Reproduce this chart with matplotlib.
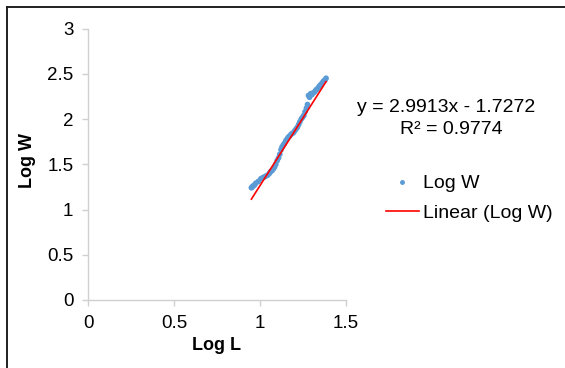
import matplotlib
matplotlib.use("Agg")
import matplotlib.pyplot as plt
import numpy as np
from matplotlib.lines import Line2D

plt.rcParams['font.family'] = ['Liberation Sans', 'DejaVu Sans']

log_l = [0.950, 0.955, 0.960, 0.968, 0.975, 0.990, 1.005, 1.015, 1.025, 1.035,
         1.045, 1.055, 1.062, 1.070, 1.078, 1.085, 1.092, 1.100, 1.108, 1.115,
         1.122, 1.128, 1.135, 1.142, 1.150, 1.158, 1.165, 1.172, 1.180, 1.188,
         1.195, 1.202, 1.210, 1.218, 1.225, 1.232, 1.240, 1.248, 1.255, 1.262,
         1.270, 1.276, 1.282, 1.288, 1.295, 1.302, 1.310, 1.318, 1.325, 1.332,
         1.340, 1.348, 1.355, 1.362, 1.370, 1.378, 1.384]
log_w = [1.24, 1.25, 1.26, 1.27, 1.29, 1.31, 1.34, 1.35, 1.36, 1.37,
         1.38, 1.40, 1.42, 1.43, 1.45, 1.47, 1.50, 1.54, 1.57, 1.61,
         1.66, 1.69, 1.71, 1.73, 1.76, 1.78, 1.80, 1.81, 1.83, 1.84,
         1.85, 1.87, 1.89, 1.91, 1.94, 1.97, 2.00, 2.02, 2.04, 2.08,
         2.12, 2.16, 2.26, 2.24, 2.28, 2.27, 2.29, 2.30, 2.32, 2.33,
         2.35, 2.37, 2.38, 2.40, 2.42, 2.43, 2.45]
slope = 2.9913
intercept = -1.7272
r_squared = 0.9774
x_ticks = [0, 0.5, 1, 1.5]
y_ticks = [0, 0.5, 1, 1.5, 2, 2.5, 3]

W, H = 565, 368
fig = plt.figure(figsize=(W / 100, H / 100), dpi=100)
ax = fig.add_axes([88 / W, (H - 300) / H, (346 - 88) / W, (300 - 28.5) / H])

ax.scatter(log_l, log_w, s=17, color='#5B9BD5', edgecolors='none', zorder=3, label='Log W')
tx = np.array([min(log_l), max(log_l)])
ax.plot(tx, slope * tx + intercept, color='#FF0000', lw=1.2, zorder=4, label='Linear (Log W)')

ax.set_xlim(0, 1.5)
ax.set_ylim(0, 3)
ax.set_xticks(x_ticks)
ax.set_xticklabels(['0', '0.5', '1', '1.5'])
ax.set_yticks(y_ticks)
ax.set_yticklabels(['0', '0.5', '1', '1.5', '2', '2.5', '3'])
for s in ['top', 'right']:
    ax.spines[s].set_visible(False)
for s in ['left', 'bottom']:
    ax.spines[s].set_color('#D0D0D0')
    ax.spines[s].set_linewidth(1.0)
ax.tick_params(axis='both', colors='#D0D0D0', length=4.5, width=1.0, labelsize=13.5,
               labelcolor='#000000', pad=6)

ax.set_xlabel('Log L', fontsize=13, fontweight='bold', labelpad=4)
ax.set_ylabel('Log W', fontsize=13, fontweight='bold')
ax.yaxis.set_label_coords(-(88 - 36) / (346 - 88), (300 - 160) / (300 - 28.5))

fig.text(446 / W, 1 - 107 / H, 'y = 2.9913x - 1.7272', ha='center', va='center', fontsize=14)
fig.text(451 / W, 1 - 130 / H, 'R² = 0.9774', ha='center', va='center', fontsize=14)

handles = [Line2D([], [], marker='o', ls='none', color='#5B9BD5', markersize=2.5),
           Line2D([], [], color='#FF0000', lw=1.2)]
fig.legend(handles, ['Log W', 'Linear (Log W)'], loc='upper left',
           bbox_to_anchor=(376 / W, 1 - 165 / H), frameon=False, fontsize=14,
           handlelength=1.7, handletextpad=0.2, labelspacing=0.6, borderpad=0)

fig.add_artist(Line2D([7 / W, 7 / W], [0, 1 - 7 / H], color='#202020', lw=1.4,
                      transform=fig.transFigure))
fig.add_artist(Line2D([7 / W, 1], [1 - 7 / H, 1 - 7 / H], color='#202020', lw=1.4,
                      transform=fig.transFigure))

fig.savefig('out.png', dpi=100)
